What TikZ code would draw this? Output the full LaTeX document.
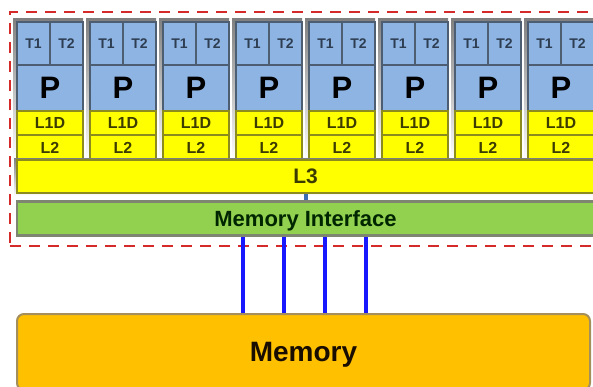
\documentclass[tikz,border=0pt]{standalone}
\usepackage{fontspec}
\setmainfont{Liberation Sans}
\definecolor{coreblue}{HTML}{8EB4E3}
\definecolor{coreline}{HTML}{4E5E72}
\definecolor{threadtxt}{HTML}{2E3E52}
\definecolor{cachefill}{HTML}{FFFF00}
\definecolor{cacheline}{HTML}{8C8C1E}
\definecolor{cachetxt}{HTML}{3C3C00}
\definecolor{ifgreen}{HTML}{92D050}
\definecolor{ifline}{HTML}{7E8672}
\definecolor{memorange}{HTML}{FFC000}
\definecolor{memline}{HTML}{A38E5C}
\definecolor{chipred}{HTML}{D42A2A}
\definecolor{busblue}{HTML}{1818FF}
\definecolor{linkblue}{HTML}{3C6EB4}
\definecolor{shade}{HTML}{E4E4E4}

\begin{document}
\begin{tikzpicture}[x=1pt,y=-1pt]
\tikzset{thread/.style={draw=coreline, fill=coreblue, line width=1.8pt, minimum width=33pt, minimum height=43pt, inner sep=0pt, text=threadtxt, font=\fontsize{14}{14}\selectfont\bfseries},
  proc/.style={thread, minimum width=66pt, minimum height=46pt, text=black, font=\fontsize{31}{31}\selectfont\bfseries},
  cache/.style={draw=cacheline, fill=cachefill, line width=1.8pt, minimum width=66pt, minimum height=24.5pt, inner sep=0pt, text=cachetxt, font=\fontsize{16}{16}\selectfont\bfseries},
  chip/.style={draw=chipred, line width=2.5pt, dash pattern=on 11pt off 8pt, minimum width=590pt, minimum height=234pt, inner sep=0pt},
  iface/.style={draw=ifline, fill=ifgreen, line width=2.5pt, minimum width=577pt, minimum height=34pt, inner sep=0pt, text depth=0pt, text=black!85!green, font=\fontsize{22}{22}\selectfont\bfseries},
  memory/.style={draw=memline, fill=memorange, line width=2pt, rounded corners=7pt, minimum width=573pt, minimum height=76pt, inner sep=0pt, text depth=0pt, text=black!90!orange, font=\fontsize{28}{28}\selectfont\bfseries},
  bus/.style={draw=busblue, line width=3.5pt},
  link/.style={draw=linkblue, line width=4pt}}
\useasboundingbox (0,0) rectangle (593,386);
\clip (0,0) rectangle (593,386);
\node[chip] (chip) at (305,129) {};
% cores
\foreach \i [evaluate=\i as \cx using 17+73*(\i-1)] in {1,...,8} {
  \fill[shade] (\cx-4,18) rectangle (\cx+66,160);
  \node[thread] (T1-\i) at (\cx+16.5,43.5) {T1};
  \node[thread] (T2-\i) at (\cx+49.5,43.5) {T2};
  \node[proc] (P\i) at (\cx+33,88) {P};
  \node[cache] (LoneD\i) at (\cx+33,123) {L1D};
  \node[cache] (Ltwo\i) at (\cx+33,147.5) {L2};
}
% shared part
\fill[shade] (14,158) rectangle (593,196);
\node[cache, minimum width=577pt, minimum height=33pt, font=\fontsize{21}{21}\selectfont\bfseries] (Lthree) at (305.5,176.5) {L3};
\node[iface] (memif) at (305.5,218.5) {Memory Interface};
\draw[link] (Lthree.south) -- (memif.north);
\node[memory] (mem) at (303.5,352) {Memory};
\foreach \dx in {-62.5,-21.5,19.5,60.5}
  \draw[bus] ([xshift=\dx]memif.south) -- ([xshift=\dx]memif.south |- mem.north);
\end{tikzpicture}
\end{document}
